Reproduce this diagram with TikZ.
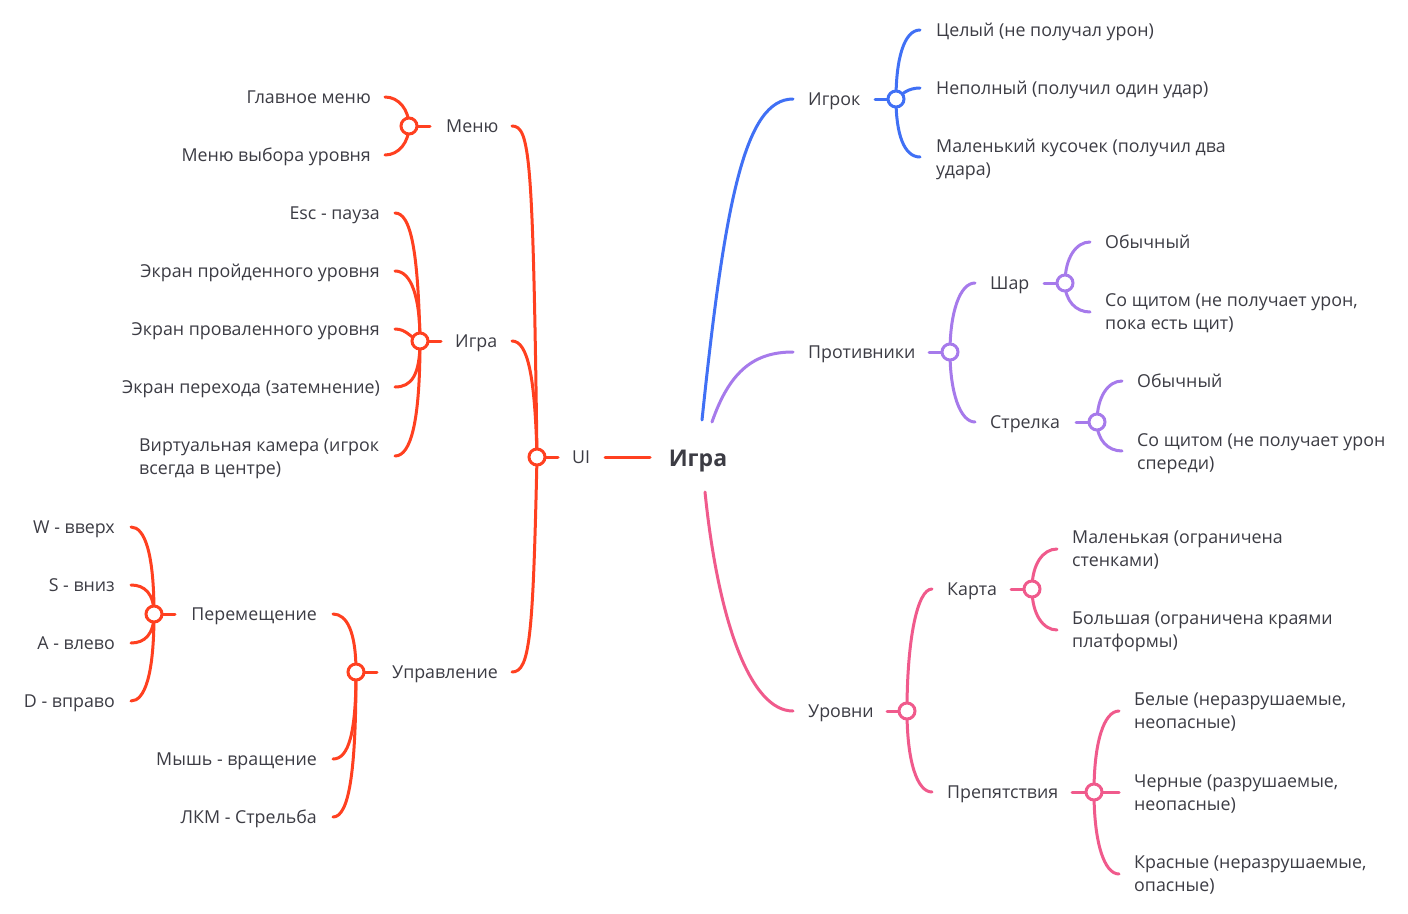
\documentclass[tikz,border=0pt]{standalone}
\usepackage{fontspec}
\setmainfont{Open Sans}
\usetikzlibrary{calc}
\definecolor{cred}{HTML}{FF4020}
\definecolor{cblue}{HTML}{4070F5}
\definecolor{cpurp}{HTML}{A67AEB}
\definecolor{cpink}{HTML}{F05A8C}
\definecolor{ctext}{HTML}{3C3C44}
\tikzset{
  txt/.style={font=\fontsize{17.8}{23}\selectfont, text=ctext, inner sep=0pt},
  one/.style={txt, text height=13pt, text depth=0pt},
  lt/.style={one, anchor=east},
  rt/.style={one, anchor=west},
  ml/.style={txt, anchor=base west, align=left},
  hub/.style={circle, draw, fill=white, line width=3pt, minimum size=16pt, inner sep=0pt},
  br/.style={line width=3pt, line cap=round},
}
\begin{document}
\begin{tikzpicture}[x=1pt,y=-1pt]
\useasboundingbox[fill=white] (0,0) rectangle (1408,913);
% ---------- root ----------
\node[txt, font=\fontsize{23}{28}\bfseries\selectfont, text height=17pt, text depth=0pt] (root) at (698,458) {Игра};
\coordinate (rb) at (702,420);
\coordinate (rp) at (712,422);
\coordinate (rk) at (705,492);
\coordinate (rl) at (650,457);
% ---------- left texts ----------
\node[rt] (ui) at (572,457) {UI};
\node[rt] (menu) at (446,126) {Меню};
\node[lt] (gm) at (371,97) {Главное меню};
\node[lt] (mv) at (371,155) {Меню выбора уровня};
\node[rt] (game) at (455,341) {Игра};
\node[lt] (esc) at (380,213) {Esc - пауза};
\node[lt] (epass) at (380,271) {Экран пройденного уровня};
\node[lt] (efail) at (380,329) {Экран проваленного уровня};
\node[lt] (etr) at (380,387) {Экран перехода (затемнение)};
\node[ml] (vcam) at (139,474) {Виртуальная камера (игрок\\всегда в центре)};
\node[rt] (upr) at (392,672) {Управление};
\node[lt] (per) at (317,614) {Перемещение};
\node[lt] (mouse) at (317,759) {Мышь - вращение};
\node[lt] (lkm) at (317,817) {ЛКМ - Стрельба};
\node[lt] (kw) at (115,527) {W - вверх};
\node[lt] (ks) at (115,585) {S - вниз};
\node[lt] (ka) at (115,643) {A - влево};
\node[lt] (kd) at (115,701) {D - вправо};
% left coordinates
\coordinate (uiS) at (558,457); \coordinate (uiE) at (605,457);
\coordinate (menuE) at (512,126); \coordinate (menuS) at (430,126);
\coordinate (gameE) at (512,341); \coordinate (gameS) at (441,341);
\coordinate (uprE) at (512,672); \coordinate (uprS) at (377,672);
\coordinate (gmE) at (385,97); \coordinate (mvE) at (385,155);
\coordinate (escE) at (395,213); \coordinate (epassE) at (395,271);
\coordinate (efailE) at (395,329); \coordinate (etrE) at (395,387);
\coordinate (vcamE) at (395,456);
\coordinate (perE) at (333,614); \coordinate (perS) at (175,614);
\coordinate (mouseE) at (333,759); \coordinate (lkmE) at (333,817);
\coordinate (kwE) at (131,527); \coordinate (ksE) at (131,585);
\coordinate (kaE) at (131,643); \coordinate (kdE) at (131,701);
% hubs (positions)
\coordinate (hUI) at (537,457);
\coordinate (hMenu) at (409,126);
\coordinate (hGame) at (420,341);
\coordinate (hUpr) at (356,672);
\coordinate (hPer) at (154,614);
% left lines
\begin{scope}[draw=cred, br]
\draw (uiE) -- (rl);
\draw (hUI) -- (uiS);
\draw (menuE) .. controls +(18,0) and +(-4,-300) .. (hUI);
\draw (gameE) .. controls +(16,0) and +(-2,-80) .. (hUI);
\draw (uprE) .. controls +(18,0) and +(-4,180) .. (hUI);
\draw (hMenu) -- (menuS);
\draw (gmE) .. controls +(14,0) and +(0,-16) .. (hMenu);
\draw (mvE) .. controls +(14,0) and +(0,16) .. (hMenu);
\draw (hGame) -- (gameS);
\draw (escE) .. controls +(16,0) and +(-2,-90) .. (hGame);
\draw (epassE) .. controls +(16,0) and +(0,-45) .. (hGame);
\draw (efailE) .. controls +(12,0) and +(-10,-3) .. (hGame);
\draw (etrE) .. controls +(16,0) and +(0,35) .. (hGame);
\draw (vcamE) .. controls +(16,0) and +(0,80) .. (hGame);
\draw (hUpr) -- (uprS);
\draw (perE) .. controls +(14,0) and +(0,-40) .. (hUpr);
\draw (mouseE) .. controls +(16,0) and +(0,60) .. (hUpr);
\draw (lkmE) .. controls +(16,0) and +(0,100) .. (hUpr);
\draw (hPer) -- (perS);
\draw (kwE) .. controls +(14,0) and +(0,-60) .. (hPer);
\draw (ksE) .. controls +(14,0) and +(0,-20) .. (hPer);
\draw (kaE) .. controls +(14,0) and +(0,20) .. (hPer);
\draw (kdE) .. controls +(14,0) and +(0,60) .. (hPer);
\end{scope}
\foreach \h in {hUI,hMenu,hGame,hUpr,hPer} \node[hub, draw=cred] (n\h) at (\h) {};
% ---------- right: player ----------
\node[rt] (pl) at (808,99) {Игрок};
\node[rt] (p1) at (936,30) {Целый (не получал урон)};
\node[rt] (p2) at (936,88) {Неполный (получил один удар)};
\node[ml] (p3) at (936,175) {Маленький кусочек (получил два\\удара)};
\coordinate (plB) at (793,99); \coordinate (plS) at (875,99);
\coordinate (hPl) at (896,99);
\coordinate (p1E) at (920,30); \coordinate (p2E) at (920,88); \coordinate (p3E) at (920,157);
\begin{scope}[draw=cblue, br]
\draw (rb) .. controls (725,200) and (745,99) .. (plB);
\draw (plS) -- (hPl);
\draw (p1E) .. controls +(-16,0) and +(0,-40) .. (hPl);
\draw (p2E) .. controls +(-12,0) and +(6,-5) .. (hPl);
\draw (p3E) .. controls +(-16,0) and +(0,35) .. (hPl);
\end{scope}
\node[hub, draw=cblue] (nhPl) at (hPl) {};
% ---------- right: enemies ----------
\node[rt] (en) at (808,352) {Противники};
\node[rt] (sh) at (990,283) {Шар};
\node[rt] (st) at (990,422) {Стрелка};
\node[rt] (sh1) at (1105,242) {Обычный};
\node[ml] (sh2) at (1105,329) {Со щитом (не получает урон,\\пока есть щит)};
\node[rt] (st1) at (1137,381) {Обычный};
\node[ml] (st2) at (1137,469) {Со щитом (не получает урон\\спереди)};
\coordinate (enB) at (793,352); \coordinate (enS) at (929,352); \coordinate (hEn) at (950,352);
\coordinate (shE) at (975,283); \coordinate (stE) at (975,422);
\coordinate (shS) at (1044,283); \coordinate (hSh) at (1065,283);
\coordinate (stS) at (1076,422); \coordinate (hSt) at (1097,422);
\coordinate (sh1E) at (1090,242); \coordinate (sh2E) at (1090,312);
\coordinate (st1E) at (1122,381); \coordinate (st2E) at (1122,451);
\begin{scope}[draw=cpurp, br]
\draw (rp) .. controls (730,370) and (755,352) .. (enB);
\draw (enS) -- (hEn);
\draw (shE) .. controls +(-15,0) and +(0,-40) .. (hEn);
\draw (stE) .. controls +(-15,0) and +(0,40) .. (hEn);
\draw (shS) -- (hSh);
\draw (sh1E) .. controls +(-14,0) and +(0,-25) .. (hSh);
\draw (sh2E) .. controls +(-14,0) and +(0,18) .. (hSh);
\draw (stS) -- (hSt);
\draw (st1E) .. controls +(-14,0) and +(0,-25) .. (hSt);
\draw (st2E) .. controls +(-14,0) and +(0,18) .. (hSt);
\end{scope}
\foreach \h in {hEn,hSh,hSt} \node[hub, draw=cpurp] (n\h) at (\h) {};
% ---------- right: levels ----------
\node[rt] (lv) at (808,711) {Уровни};
\node[rt] (map) at (947,589) {Карта};
\node[rt] (obs) at (947,792) {Препятствия};
\node[ml] (m1) at (1072,566) {Маленькая (ограничена\\стенками)};
\node[ml] (m2) at (1072,647) {Большая (ограничена краями\\платформы)};
\node[ml] (o1) at (1134,728) {Белые (неразрушаемые,\\неопасные)};
\node[ml] (o2) at (1134,810) {Черные (разрушаемые,\\неопасные)};
\node[ml] (o3) at (1134,891) {Красные (неразрушаемые,\\опасные)};
\coordinate (lvB) at (793,711); \coordinate (lvS) at (887,711); \coordinate (hLv) at (907,711);
\coordinate (mapE) at (932,589); \coordinate (obsE) at (932,792);
\coordinate (mapS) at (1011,589); \coordinate (hMap) at (1032,589);
\coordinate (obsS) at (1072,792); \coordinate (hObs) at (1094,792);
\coordinate (m1E) at (1057,549); \coordinate (m2E) at (1057,630);
\coordinate (o1E) at (1119,711); \coordinate (o2E) at (1119,792); \coordinate (o3E) at (1119,874);
\begin{scope}[draw=cpink, br]
\draw (rk) .. controls (718,620) and (750,711) .. (lvB);
\draw (lvS) -- (hLv);
\draw (mapE) .. controls +(-15,0) and +(0,-70) .. (hLv);
\draw (obsE) .. controls +(-15,0) and +(0,50) .. (hLv);
\draw (mapS) -- (hMap);
\draw (m1E) .. controls +(-14,0) and +(0,-25) .. (hMap);
\draw (m2E) .. controls +(-14,0) and +(0,25) .. (hMap);
\draw (obsS) -- (hObs);
\draw (o1E) .. controls +(-15,0) and +(0,-50) .. (hObs);
\draw (o2E) -- (hObs);
\draw (o3E) .. controls +(-15,0) and +(0,50) .. (hObs);
\end{scope}
\foreach \h in {hLv,hMap,hObs} \node[hub, draw=cpink] (n\h) at (\h) {};
\end{tikzpicture}
\end{document}
